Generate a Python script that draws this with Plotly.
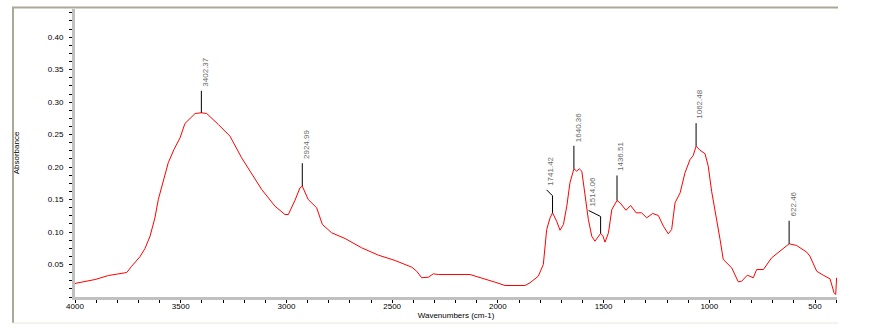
import plotly.graph_objects as go

# ---- data ----
wavenumber = [4000, 3995, 3905, 3842, 3755, 3732, 3693, 3669, 3645, 3622,
              3606, 3582, 3559, 3532, 3503, 3480, 3432, 3402.37, 3377, 3322,
              3267, 3212, 3164, 3117, 3054, 3007, 2991, 2959, 2936, 2924.99,
              2897, 2857, 2830, 2786, 2723, 2644, 2565, 2486, 2407, 2384,
              2360, 2329, 2305, 2282, 2132, 2076, 2013, 1966, 1872, 1848,
              1809, 1785, 1769, 1753, 1741.42, 1722, 1706, 1690, 1674, 1659,
              1640.36, 1627, 1615, 1603, 1588, 1572, 1556, 1541, 1514.06, 1504,
              1493, 1477, 1461, 1436.51, 1422, 1394, 1372, 1346, 1320, 1296,
              1268, 1241, 1217, 1194, 1178, 1162, 1138, 1115, 1091, 1076,
              1062.48, 1044, 1020, 1005, 989, 973, 949, 934, 894, 863,
              847, 820, 792, 776, 744, 705, 658, 622.46, 587, 539,
              524, 492, 461, 429, 410, 402, 398]
absorbance = [0.0205, 0.0212, 0.0269, 0.0331, 0.0377, 0.0474, 0.0619, 0.0747, 0.0936, 0.1219,
              0.1501, 0.1783, 0.2066, 0.2271, 0.2451, 0.2671, 0.2825, 0.2836, 0.2825, 0.2656,
              0.2476, 0.2143, 0.1886, 0.1655, 0.1398, 0.1270, 0.1270, 0.1493, 0.1681, 0.1706,
              0.1501, 0.1373, 0.1116, 0.0988, 0.0901, 0.0757, 0.0644, 0.0562, 0.0459, 0.0397,
              0.0296, 0.0305, 0.0357, 0.0346, 0.0346, 0.0296, 0.0228, 0.0177, 0.0177, 0.0219,
              0.0320, 0.0500, 0.1039, 0.1219, 0.1296, 0.1167, 0.1028, 0.1116, 0.1398, 0.1758,
              0.1974, 0.1937, 0.1974, 0.1937, 0.1552, 0.1193, 0.0936, 0.0859, 0.0978, 0.0947,
              0.0844, 0.0988, 0.1347, 0.1486, 0.1450, 0.1336, 0.1409, 0.1296, 0.1296, 0.1219,
              0.1286, 0.1255, 0.1090, 0.0973, 0.1039, 0.1450, 0.1604, 0.1912, 0.2117, 0.2179,
              0.2322, 0.2260, 0.2205, 0.2014, 0.1629, 0.1347, 0.0885, 0.0577, 0.0449, 0.0234,
              0.0243, 0.0336, 0.0296, 0.0423, 0.0423, 0.0604, 0.0731, 0.0819, 0.0793, 0.0690,
              0.0628, 0.0397, 0.0336, 0.0280, 0.0065, 0.0038, 0.0296]

peak_wn = [3402.37, 2924.99, 1741.42, 1640.36, 1514.06, 1436.51, 1062.48, 622.46]
peak_abs = [0.2836, 0.1706, 0.1296, 0.1974, 0.0978, 0.1486, 0.2322, 0.0819]
peak_text = ["3402.37", "2924.99", "1741.42", "1640.36", "1514.06", "1436.51", "1062.48", "622.46"]

x_ticks = [4000, 3500, 3000, 2500, 2000, 1500, 1000, 500]
y_ticks = [0.05, 0.10, 0.15, 0.20, 0.25, 0.30, 0.35, 0.40]

# ---- layout geometry (pixels) ----
W, H = 869, 334
ML, MR, MT, MB = 75, 32, 9, 37
XR = [4000, 396]
YR = [0.0, 0.4434]
plot_w = W - ML - MR
plot_h = H - MT - MB
px_per_wn = plot_w / (XR[0] - XR[1])
px_per_a = plot_h / (YR[1] - YR[0])

# leader styling: vertical length and optional kink (dx, dy) in pixels
leader_len = [22, 23, 17, 23, 17, 25, 23, 23]
leader_kink = [None, None, (-6, -6), None, (-12, -6), None, None, None]

fig = go.Figure()
fig.add_trace(go.Scatter(x=wavenumber, y=absorbance, mode="lines",
                         line=dict(color="#ff0000", width=1), hoverinfo="skip",
                         showlegend=False))

lx, ly = [], []
for i, (w, a) in enumerate(zip(peak_wn, peak_abs)):
    top_a = a + leader_len[i] / px_per_a
    lx += [w, w]
    ly += [a, top_a]
    end_w, end_a = w, top_a
    if leader_kink[i] is not None:
        dx, dy = leader_kink[i]
        end_w = w - dx / px_per_wn
        end_a = top_a - dy / px_per_a
        lx.append(end_w)
        ly.append(end_a)
    lx.append(None)
    ly.append(None)
    fig.add_annotation(x=end_w, y=end_a + 2 / px_per_a, text=peak_text[i],
                       textangle=-90, showarrow=False, xanchor="center",
                       yanchor="bottom", xshift=4,
                       font=dict(family="Liberation Sans, Arial", size=8, color="#6a6a6a"))
fig.add_trace(go.Scatter(x=lx, y=ly, mode="lines", line=dict(color="black", width=1),
                         hoverinfo="skip", showlegend=False))

# outer frame lines
def px_x(p):
    return (p - ML) / plot_w

def px_y(p):
    return (H - MB - p) / plot_h

fig.add_shape(type="line", xref="paper", yref="paper", x0=px_x(12), x1=px_x(838),
              y0=px_y(7.5), y1=px_y(7.5), line=dict(color="#aca899", width=2))
fig.add_shape(type="line", xref="paper", yref="paper", x0=px_x(13), x1=px_x(13),
              y0=px_y(7), y1=px_y(323), line=dict(color="#aca899", width=2))
fig.add_shape(type="line", xref="paper", yref="paper", x0=px_x(12), x1=px_x(838),
              y0=px_y(323), y1=px_y(323), line=dict(color="#e6e6e0", width=1))

tick_font = dict(family="Liberation Sans, Arial", size=8, color="black")
fig.update_xaxes(range=XR, tickvals=x_ticks, ticktext=[str(t) for t in x_ticks],
                 showgrid=False, zeroline=False, showline=True, linecolor="#c0c0c0",
                 linewidth=3, ticks="outside", ticklen=3, tickcolor="black", tickwidth=1,
                 tickfont=tick_font, ticklabelstandoff=-4,
                 minor=dict(dtick=100, tick0=0, ticks="outside", ticklen=3,
                            tickcolor="black", showgrid=False),
                 title=dict(text="Wavenumbers (cm-1)", standoff=3,
                            font=dict(family="Liberation Sans, Arial", size=8, color="black")))
fig.update_yaxes(range=YR, tickvals=y_ticks, tickformat=".2f",
                 showgrid=False, zeroline=False, showline=True, linecolor="#c0c0c0",
                 linewidth=3, ticks="outside", ticklen=3, tickcolor="black", tickwidth=1,
                 tickfont=tick_font, ticklabelstandoff=4,
                 minor=dict(dtick=0.0125, tick0=0, ticks="outside", ticklen=3,
                            tickcolor="black", showgrid=False),
                 title=dict(text="Absorbance", standoff=28,
                            font=dict(family="Liberation Sans, Arial", size=8, color="black")))

fig.update_layout(width=W, height=H, margin=dict(l=ML, r=MR, t=MT, b=MB),
                  plot_bgcolor="white", paper_bgcolor="white", showlegend=False)

fig.write_html("out.html")
